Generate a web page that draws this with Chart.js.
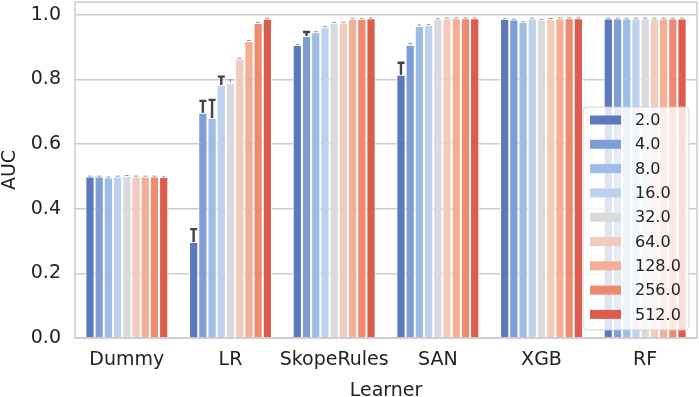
<!DOCTYPE html>
<html>
<head>
<meta charset="utf-8">
<script src="https://cdn.jsdelivr.net/npm/chart.js@4"></script>
<style>
  html, body { margin: 0; padding: 0; background: #fff; }
</style>
</head>
<body>
<canvas id="myChart" width="699" height="397"></canvas>
<script>
// learners on the x axis
var learners = ['Dummy', 'LR', 'SkopeRules', 'SAN', 'XGB', 'RF'];
var sizes = ['2.0', '4.0', '8.0', '16.0', '32.0', '64.0', '128.0', '256.0', '512.0'];
var colors = ['#5d79be', '#7f9ed6', '#9fbce6', '#bdd2ec', '#dadada', '#f2cbbc', '#f3ae93', '#ee8a6f', '#de5c4d'];

// mean AUC per size, one value per learner
var s2   = [0.500, 0.297, 0.907, 0.815, 0.987, 0.989];
var s4   = [0.500, 0.697, 0.935, 0.908, 0.986, 0.989];
var s8   = [0.497, 0.681, 0.946, 0.966, 0.978, 0.989];
var s16  = [0.500, 0.783, 0.962, 0.969, 0.989, 0.989];
var s32  = [0.502, 0.790, 0.976, 0.987, 0.985, 0.989];
var s64  = [0.500, 0.864, 0.976, 0.990, 0.988, 0.989];
var s128 = [0.500, 0.919, 0.987, 0.990, 0.990, 0.989];
var s256 = [0.500, 0.975, 0.987, 0.990, 0.990, 0.989];
var s512 = [0.498, 0.988, 0.990, 0.990, 0.990, 0.989];

// upper end of the confidence interval
var e2   = [0.501, 0.337, 0.908, 0.852, 0.988, 0.990];
var e4   = [0.501, 0.734, 0.947, 0.912, 0.987, 0.990];
var e8   = [0.498, 0.737, 0.948, 0.969, 0.979, 0.990];
var e16  = [0.501, 0.809, 0.964, 0.970, 0.990, 0.990];
var e32  = [0.503, 0.799, 0.977, 0.988, 0.986, 0.990];
var e64  = [0.501, 0.866, 0.977, 0.991, 0.989, 0.990];
var e128 = [0.501, 0.921, 0.988, 0.991, 0.991, 0.990];
var e256 = [0.501, 0.977, 0.988, 0.991, 0.991, 0.990];
var e512 = [0.499, 0.990, 0.991, 0.991, 0.991, 0.990];

var yTicks = [0, 0.2, 0.4, 0.6, 0.8, 1.0];

var means = [s2, s4, s8, s16, s32, s64, s128, s256, s512];
var highs = [e2, e4, e8, e16, e32, e64, e128, e256, e512];

var font = 'DejaVu Sans';

var errorBars = {
    id: 'errorBars',
    afterDatasetsDraw: function(chart) {
        var c = chart.ctx, y = chart.scales.y;
        c.save();
        chart.data.datasets.forEach(function(ds, i) {
            var meta = chart.getDatasetMeta(i);
            meta.data.forEach(function(bar, j) {
                var top = y.getPixelForValue(highs[i][j]);
                var big = bar.y - top > 3;
                c.strokeStyle = big ? '#444444' : '#9a9a9a';
                c.lineWidth = big ? 2.4 : 1;
                c.beginPath();
                c.moveTo(bar.x, bar.y);
                c.lineTo(bar.x, top);
                c.moveTo(bar.x - (big ? 3.5 : 2), top);
                c.lineTo(bar.x + (big ? 3.5 : 2), top);
                c.stroke();
            });
        });
        c.restore();
    }
};

var frameAndLegend = {
    id: 'frameAndLegend',
    afterDraw: function(chart) {
        var c = chart.ctx, a = chart.chartArea;
        c.save();
        c.strokeStyle = '#cccccc';
        c.lineWidth = 1.5;
        c.strokeRect(a.left, a.top, a.right - a.left, a.bottom - a.top);

        // legend box
        var lx = 583, ly = 107, lw = 106, lh = 223;
        c.fillStyle = 'rgba(255,255,255,0.8)';
        c.strokeStyle = 'rgba(204,204,204,0.8)';
        c.lineWidth = 1;
        c.beginPath();
        c.roundRect(lx, ly, lw, lh, 4);
        c.fill();
        c.stroke();
        c.font = '16px "' + font + '"';
        c.textBaseline = 'middle';
        chart.data.datasets.forEach(function(ds, i) {
            var cy = 120 + i * 24.3;
            c.fillStyle = ds.backgroundColor;
            c.fillRect(590, cy - 4.5, 31, 9);
            c.fillStyle = '#222';
            c.fillText(ds.label, 635, cy + 1);
        });
        c.restore();
    }
};

var ctx = document.getElementById('myChart').getContext('2d');
var myChart = new Chart(ctx, {
    type: 'bar',
    data: {
        labels: learners,
        datasets: sizes.map(function(s, i) {
            return {
                label: s,
                data: means[i],
                backgroundColor: colors[i],
                borderColor: '#ffffff',
                borderWidth: 1,
                categoryPercentage: 0.8,
                barPercentage: 1.0
            };
        })
    },
    options: {
        responsive: false,
        animation: false,
        layout: { padding: { top: 2, right: 2, left: 0, bottom: 0 } },
        plugins: {
            legend: { display: false },
            tooltip: { enabled: false }
        },
        scales: {
            x: {
                afterFit: function(axis) {
                    axis.height = 59;
                    axis.paddingLeft = 0;
                    axis.paddingRight = 0;
                },
                grid: { display: false, drawTicks: false },
                border: { display: false },
                ticks: { color: '#222', font: { family: font, size: 19 }, padding: 11, minRotation: 0, maxRotation: 0, autoSkip: false },
                title: { display: true, text: 'Learner', color: '#222', font: { family: font, size: 19 }, padding: { top: 0, bottom: -5 } }
            },
            y: {
                min: 0,
                max: 1.04,
                afterBuildTicks: function(axis) {
                    axis.ticks = yTicks.map(function(v) { return { value: v }; });
                },
                afterFit: function(axis) {
                    axis.width = 75;
                    axis.paddingTop = 0;
                    axis.paddingBottom = 0;
                },
                grid: { color: '#cccccc', lineWidth: 1.5, drawTicks: false },
                border: { display: false },
                ticks: {
                    color: '#222',
                    font: { family: font, size: 19 },
                    padding: 14,
                    callback: function(v) { return v.toFixed(1); }
                },
                title: { display: true, text: 'AUC', color: '#222', font: { family: font, size: 19 }, padding: { top: -1, bottom: 0 } }
            }
        }
    },
    plugins: [errorBars, frameAndLegend]
});
</script>
</body>
</html>
